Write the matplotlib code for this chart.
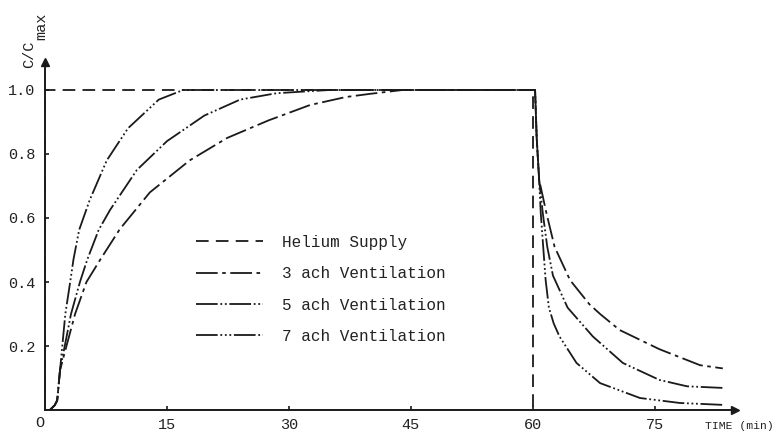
import matplotlib
matplotlib.use("Agg")
import matplotlib.pyplot as plt

plt.rcParams['font.family'] = ['Liberation Mono', 'DejaVu Sans Mono']

# ---- data ----
helium_t = [0, 0, 60, 60]
helium_c = [0, 1.0, 1.0, 0]

# 3 ach (slowest)
t3 = [0, 0.6, 1.2, 1.5, 1.85, 3.7, 5.1, 6.8, 9.2, 12.9, 17.8, 22.4, 27.5, 32.6, 37, 40, 44,
      60.3, 60.5, 60.8, 61.7, 62.7, 64.6, 67.0, 68.3, 70.7, 75.6, 80.6, 83.4]
c3 = [0, 0.0, 0.015, 0.03, 0.125, 0.30, 0.40, 0.47, 0.565, 0.68, 0.78, 0.85, 0.905, 0.953, 0.978, 0.988, 1.0,
      1.0, 0.85, 0.72, 0.615, 0.51, 0.406, 0.33, 0.30, 0.25, 0.19, 0.14, 0.13]

# 5 ach
t5 = [0, 0.6, 1.2, 1.5, 1.85, 3.2, 4.3, 5.2, 6.6, 8.0, 11.3, 15, 19.6, 24, 28.5, 35,
      60.3, 60.5, 60.8, 61.25, 61.8, 62.5, 64.3, 67.4, 71.1, 75.6, 79, 83.4]
c5 = [0, 0.0, 0.015, 0.03, 0.125, 0.30, 0.40, 0.47, 0.5625, 0.625, 0.75, 0.84, 0.92, 0.97, 0.99, 1.0,
      1.0, 0.85, 0.72, 0.615, 0.51, 0.42, 0.32, 0.23, 0.147, 0.094, 0.074, 0.069]

# 7 ach (fastest)
t7 = [0, 0.6, 1.2, 1.5, 1.85, 2.5, 3.1, 3.5, 4.2, 5.5, 7.6, 10.2, 14, 15.5, 17,
      60.3, 60.5, 60.8, 61.0, 61.3, 61.6, 62.0, 62.6, 63.3, 65.4, 68.3, 73.2, 78.1, 83.4]
c7 = [0, 0.0, 0.015, 0.03, 0.125, 0.30, 0.40, 0.47, 0.5625, 0.656, 0.78, 0.88, 0.97, 0.985, 1.0,
      1.0, 0.85, 0.72, 0.615, 0.51, 0.406, 0.32, 0.27, 0.23, 0.147, 0.084, 0.0375, 0.022, 0.016]

x_ticks = [15, 30, 45, 60, 75]
y_ticks = [0.2, 0.4, 0.6, 0.8, 1.0]
y_ticklabels = ["0.2", "0.4", "0.6", "0.8", "1.0"]
legend_labels = ["Helium Supply", "3 ach Ventilation", "5 ach Ventilation", "7 ach Ventilation"]

# ---- figure ----
W, H = 776, 441
fig = plt.figure(figsize=(W / 100, H / 100), dpi=100)
fig.patch.set_facecolor('white')
ax = fig.add_axes([45 / W, 31 / H, (735 - 45) / W, (379 - 31) / H])
ax.set_xlim(0, 84.9)
ax.set_ylim(0, 1.0875)

ink = '#1a1a1a'
lw = 1.3
styles = {
    'he': (0, (7, 4)),
    '3': (0, (12, 2.5, 2, 2.5)),
    '5': (0, (12, 1.5, 1, 1.5, 1, 1.5)),
    '7': (0, (12, 1.5, 1, 1.5, 1, 1.5, 1, 1.5)),
}

h_he, = ax.plot(helium_t, helium_c, color=ink, lw=lw, linestyle=styles['he'])
h3, = ax.plot(t3, c3, color=ink, lw=lw, linestyle=styles['3'])
h5, = ax.plot(t5, c5, color=ink, lw=lw, linestyle=styles['5'])
h7, = ax.plot(t7, c7, color=ink, lw=lw, linestyle=styles['7'])

for s in ['top', 'right']:
    ax.spines[s].set_visible(False)
for s in ['left', 'bottom']:
    ax.spines[s].set_linewidth(1.4)
    ax.spines[s].set_color(ink)

# arrow heads on axes
ax.plot(1, 0, marker='>', color=ink, markersize=6, transform=ax.transAxes, clip_on=False)
ax.plot(0, 1, marker='^', color=ink, markersize=6, transform=ax.transAxes, clip_on=False)

ax.set_xticks(x_ticks)
ax.set_xticklabels([str(v) for v in x_ticks])
ax.set_yticks(y_ticks)
ax.set_yticklabels(y_ticklabels)
ax.tick_params(axis='both', direction='in', length=3, width=1.2, colors=ink,
               labelsize=11, labelcolor='#222222')
ax.tick_params(axis='x', pad=6)
ax.tick_params(axis='y', pad=7)

fs = 11
fig.text(40 / W, 1 - 423 / H, "O", ha='center', va='center', fontsize=fs, color='#222222')
fig.text(774 / W, 1 - 426 / H, "TIME (min)", ha='right', va='center', fontsize=8.2, color='#222222')
fig.text(29 / W, 1 - 54 / H, "C/C", rotation=90, ha='center', va='center', fontsize=fs, color='#222222')
fig.text(41 / W, 1 - 26 / H, "max", rotation=90, ha='center', va='center', fontsize=fs, color='#222222')

leg = ax.legend([h_he, h3, h5, h7], legend_labels, frameon=False,
                loc='upper left', bbox_to_anchor=(196 / W, 1 - 235 / H),
                bbox_transform=fig.transFigure, borderpad=0, borderaxespad=0,
                handlelength=4.2, handletextpad=1.2, labelspacing=1.02,
                prop={'size': 11.5})
for t in leg.get_texts():
    t.set_color('#222222')

fig.savefig('out.png', dpi=100, facecolor='white')
